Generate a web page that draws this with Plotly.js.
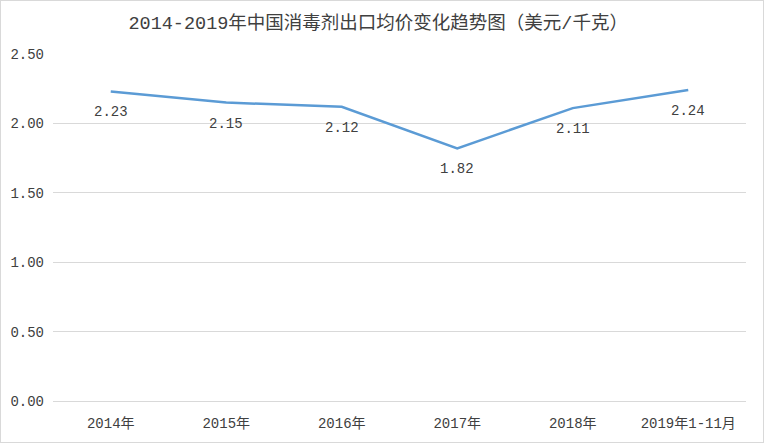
<!DOCTYPE html>
<html>
<head>
<meta charset="utf-8">
<script src="https://cdn.plot.ly/plotly-3.0.1.min.js"></script>
<style>
html,body{margin:0;padding:0;background:#fff;}
#chart{width:764px;height:443px;box-sizing:border-box;border:1px solid #D9D9D9;}
</style>
</head>
<body>
<div id="chart"></div>
<script>
const categories = ["2014年", "2015年", "2016年", "2017年", "2018年", "2019年1-11月"];
const prices = [2.23, 2.15, 2.12, 1.82, 2.11, 2.24];
const yTicks = [0, 0.5, 1.0, 1.5, 2.0, 2.5];
const titleText = "2014-2019年中国消毒剂出口均价变化趋势图（美元/千克）";

const FONT = '"Liberation Mono", "Noto Sans CJK SC", monospace';

const trace = {
  x: categories,
  y: prices,
  type: 'scatter',
  mode: 'lines',
  line: {color: '#5B9BD5', width: 2.5},
  hoverinfo: 'x+y'
};

const labels = categories.map((c, i) => ({
  x: c, y: prices[i], xref: 'x', yref: 'y',
  text: prices[i].toFixed(2),
  showarrow: false,
  xanchor: 'center', yanchor: 'middle',
  yshift: -21,
  font: {family: FONT, size: 14, color: '#404040'}
}));

const layout = {
  width: 762,
  height: 441,
  margin: {l: 52, r: 17, t: 53, b: 41},
  paper_bgcolor: '#FFFFFF',
  plot_bgcolor: '#FFFFFF',
  showlegend: false,
  title: {
    text: titleText,
    font: {family: FONT, size: 18.5, color: '#404040'},
    xref: 'container', x: 0.495, xanchor: 'center',
    yref: 'container', y: 0.952, yanchor: 'middle'
  },
  xaxis: {
    type: 'category',
    range: [-0.5, categories.length - 0.5],
    showgrid: false,
    showline: false,
    zeroline: false,
    ticks: '',
    ticklabelstandoff: 12,
    tickfont: {family: FONT, size: 14, color: '#404040'}
  },
  yaxis: {
    range: [0, 2.5],
    tickvals: yTicks,
    tickformat: '.2f',
    showgrid: true,
    gridcolor: '#D9D9D9',
    gridwidth: 1,
    zeroline: true,
    zerolinecolor: '#D9D9D9',
    zerolinewidth: 1,
    showline: false,
    ticks: '',
    ticklabelstandoff: 8,
    tickfont: {family: FONT, size: 14, color: '#404040'}
  },
  annotations: labels
};

Plotly.newPlot('chart', [trace], layout, {displayModeBar: false, staticPlot: true});
</script>
</body>
</html>
